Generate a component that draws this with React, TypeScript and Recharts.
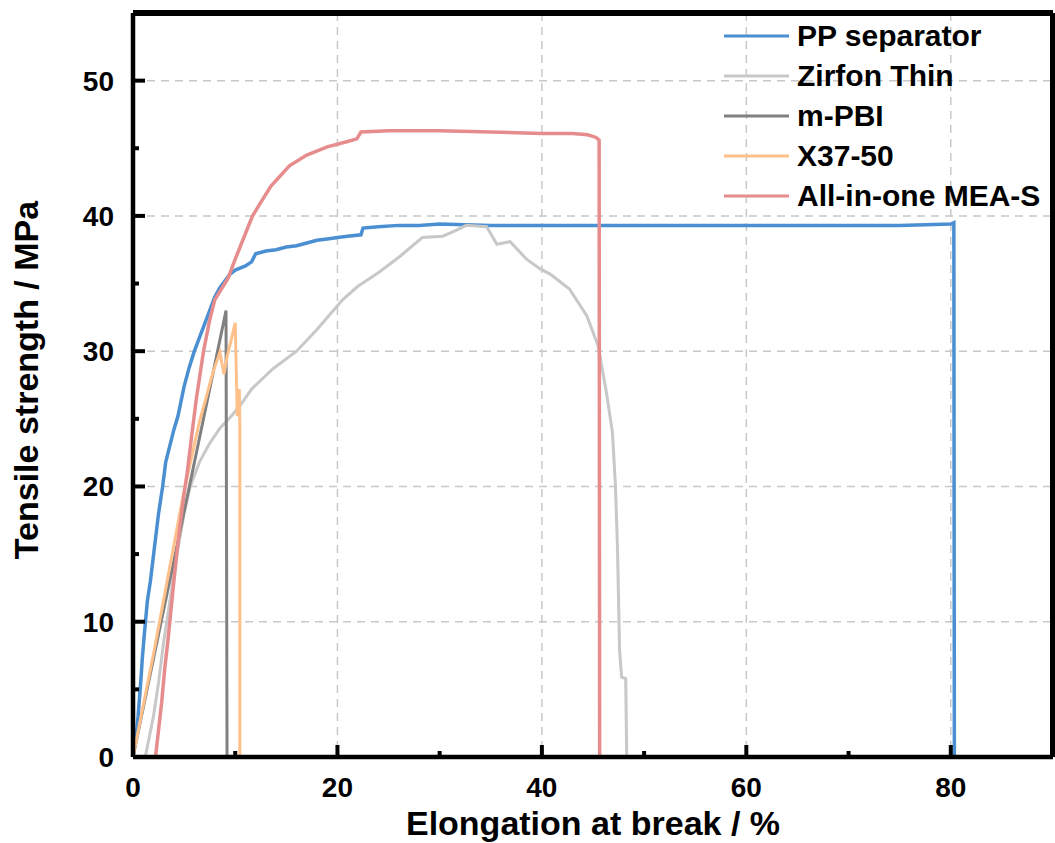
import React from 'react'
import { LineChart, Line, XAxis, YAxis, CartesianGrid, ReferenceLine } from 'recharts'

// ── data: [elongation %, strength MPa] ─────────────────────────────────────
const ppSeparator = [
  [0, 0], [0.3, 1.5], [0.5, 3], [0.8, 6], [0.9, 7.2], [1.1, 9], [1.4, 11.5], [1.7, 13], [2.1, 15.5],
  [2.5, 18], [2.9, 20], [3.2, 21.8], [3.6, 23], [4.0, 24.2], [4.4, 25.2], [5.0, 27.4], [5.5, 28.8],
  [6.0, 30], [6.5, 31], [7.0, 32], [7.5, 33], [8.0, 34], [8.5, 34.7], [9.0, 35.2], [9.5, 35.7],
  [10, 36], [11, 36.3], [11.6, 36.6], [12, 37.2], [13, 37.4], [14, 37.5], [15, 37.7], [16, 37.8],
  [17, 38], [18, 38.2], [19, 38.3], [20, 38.4], [21, 38.5], [22.3, 38.6], [22.5, 39.1], [24, 39.2],
  [26, 39.3], [28, 39.3], [30, 39.4], [35, 39.3], [40, 39.3], [45, 39.3], [50, 39.3], [55, 39.3],
  [60, 39.3], [65, 39.3], [70, 39.3], [75, 39.3], [80, 39.4], [80.3, 39.5], [80.35, 0],
]
const zirfonThin = [
  [1.2, 0], [1.6, 1.5], [2.0, 3], [2.5, 5.5], [3.0, 8.5], [3.3, 10], [3.8, 12.5], [4.3, 15], [5.0, 18],
  [5.6, 20], [6.5, 21.8], [7.5, 23.2], [8.5, 24.3], [9.5, 25.1], [10.5, 26], [11.6, 27.2], [13.7, 28.7],
  [16, 30], [18, 31.6], [20.5, 33.8], [22, 34.8], [24, 35.8], [26.1, 37], [28.3, 38.4], [30.3, 38.5],
  [31.5, 38.9], [32.6, 39.3], [34.6, 39.2], [35.6, 37.9], [36.9, 38.1], [38.5, 36.8], [39.8, 36.1],
  [40.8, 35.7], [42.7, 34.6], [44.4, 32.6], [45.5, 30.4], [46.3, 27], [46.9, 24], [47.2, 20],
  [47.4, 15.3], [47.6, 7.9], [47.8, 5.9], [48.2, 5.8], [48.3, 0],
]
const mPBI = [[0, 0], [9.1, 33], [9.2, 0]]
const x3750 = [
  [0, 0], [2, 7.6], [4.9, 19.3], [6.5, 24.8], [7.2, 26.7], [7.8, 28.4], [8.5, 29.9], [8.9, 28.3],
  [9.2, 29.6], [9.6, 30.8], [10.0, 32.1], [10.2, 25.2], [10.4, 27.2], [10.45, 24.7], [10.45, 0],
]
const meaS = [
  [2.2, 0], [2.5, 2], [2.8, 4], [3.1, 6.5], [3.4, 8.5], [3.6, 10], [4.0, 13], [4.5, 16.5], [5.0, 19.5],
  [5.3, 21], [5.7, 23.5], [6.2, 26.5], [6.9, 30], [7.5, 32.3], [8.0, 33.8], [9.3, 35.4], [10, 36.8],
  [11, 38.7], [11.7, 40], [12.5, 41], [13.5, 42.2], [15.3, 43.7], [17, 44.5], [19, 45.1], [21, 45.5],
  [21.9, 45.7], [22.3, 46.2], [25, 46.3], [30, 46.3], [35, 46.2], [40, 46.1], [43, 46.1], [44.5, 46],
  [45.3, 45.8], [45.6, 45.6], [45.65, 0],
]

const seriesNames = ['PP separator', 'Zirfon Thin', 'm-PBI', 'X37-50', 'All-in-one MEA-S']
const seriesColors = ['#4a8fd2', '#c8c8c8', '#808080', '#ffc08a', '#e68c8c']
const seriesData = [ppSeparator, zirfonThin, mPBI, x3750, meaS]

const xTicks = [0, 10, 20, 30, 40, 50, 60, 70, 80]
const xMajor = [0, 20, 40, 60, 80]
const yTicks = [0, 5, 10, 15, 20, 25, 30, 35, 40, 45, 50]
const yMajor = [0, 10, 20, 30, 40, 50]
const xGrid = [20, 40, 60, 80]
const yGrid = [10, 20, 30, 40, 50]

const FONT = '"Liberation Sans", Arial, sans-serif'

const toPoints = (arr: number[][]) => arr.map(([x, y]) => ({ x, y }))

function XTick({ x, y, payload }: any) {
  const major = xMajor.includes(payload.value)
  return (
    <g>
      <line x1={x} x2={x} y1={y} y2={y - (major ? 12 : 6)} stroke="#000" strokeWidth={4} />
      {major && (
        <text x={x} y={y + 40} textAnchor="middle" fontFamily={FONT} fontWeight="bold" fontSize={28} fill="#000">
          {payload.value}
        </text>
      )}
    </g>
  )
}

function YTick({ x, y, payload }: any) {
  const major = yMajor.includes(payload.value)
  return (
    <g>
      <line x1={x} x2={x + (major ? 12 : 6)} y1={y} y2={y} stroke="#000" strokeWidth={4} />
      {major && (
        <text x={x - 19} y={y + 10} textAnchor="end" fontFamily={FONT} fontWeight="bold" fontSize={28} fill="#000">
          {payload.value}
        </text>
      )}
    </g>
  )
}

function YTitle({ viewBox }: any) {
  const cx = 38
  const cy = viewBox.y + viewBox.height / 2 - 5
  return (
    <text x={cx} y={cy} transform={`rotate(-90, ${cx}, ${cy})`} textAnchor="middle"
      fontFamily={FONT} fontWeight="bold" fontSize={34} fill="#000">
      Tensile strength / MPa
    </text>
  )
}

function XTitle({ viewBox }: any) {
  const cx = viewBox.x + viewBox.width / 2
  return (
    <text x={cx} y={835} textAnchor="middle" fontFamily={FONT} fontWeight="bold" fontSize={34} fill="#000">
      Elongation at break / %
    </text>
  )
}

// legend drawn over the plot, top right, without taking space from it
function LegendBox() {
  return (
    <div style={{ position: 'absolute', left: 722, top: 16 }}>
      {seriesNames.map((name, i) => (
        <div key={name} style={{ display: 'flex', alignItems: 'center', height: 40 }}>
          <svg width={75} height={40}>
            <line x1={2} x2={67} y1={20} y2={20} stroke={seriesColors[i]} strokeWidth={3} />
          </svg>
          <span style={{ fontFamily: FONT, fontWeight: 'bold', fontSize: 30, color: '#000', whiteSpace: 'nowrap' }}>
            {name}
          </span>
        </div>
      ))}
    </div>
  )
}

export default function App() {
  return (
    <div style={{ position: 'absolute', left: 0, top: 0, width: 1055, height: 843, background: '#fff' }}>
      <LineChart width={1055} height={843} margin={{ top: 13, right: 2, left: 0, bottom: 0 }}>
        <CartesianGrid verticalValues={xGrid} horizontalValues={yGrid} stroke="#c8c8c8"
          strokeWidth={1.5} strokeDasharray="8 6" />
        <XAxis dataKey="x" type="number" domain={[0, 90]} ticks={xTicks} interval={0} height={86}
          tickSize={0} tickMargin={0} tick={<XTick />} axisLine={{ stroke: '#000', strokeWidth: 4.5 }}
          allowDataOverflow label={{ content: <XTitle /> }} />
        <YAxis type="number" domain={[0, 55]} ticks={yTicks} interval={0} width={133}
          tickSize={0} tickMargin={0} tick={<YTick />} axisLine={{ stroke: '#000', strokeWidth: 4.5 }}
          allowDataOverflow label={{ content: <YTitle /> }} />
        {seriesData.map((d, i) => (
          <Line key={seriesNames[i]} data={toPoints(d)} dataKey="y" name={seriesNames[i]}
            stroke={seriesColors[i]} strokeWidth={i === 0 || i === 4 ? 3.5 : 3} dot={false}
            type="linear" isAnimationActive={false} />
        ))}
        <ReferenceLine x={90} stroke="#000" strokeWidth={6} />
        <ReferenceLine y={55} stroke="#000" strokeWidth={6} />
      </LineChart>
      <LegendBox />
    </div>
  )
}
